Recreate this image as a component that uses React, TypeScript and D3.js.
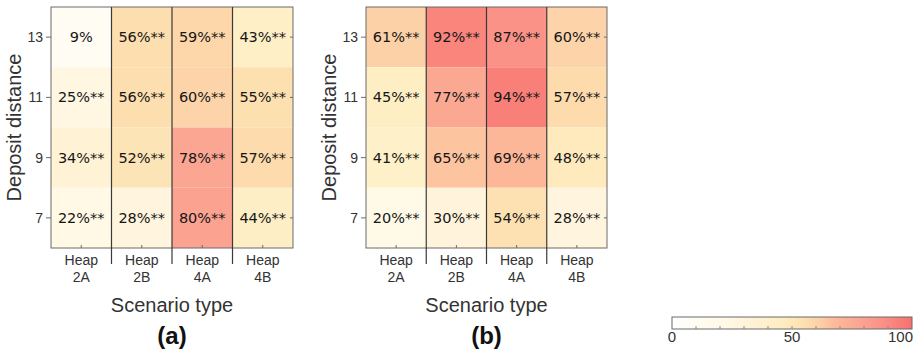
import React from "react";
import * as d3 from "d3";

// Scenario columns and deposit-distance rows (top to bottom)
const scenarios = ["2A", "2B", "4A", "4B"];
const distances = [13, 11, 9, 7];

// Percentages per scenario column, listed top row (13) to bottom row (7)
const panelA = [
  [9, 25, 34, 22],
  [56, 56, 52, 28],
  [59, 60, 78, 80],
  [43, 55, 57, 44],
];
const sigA = [
  [false, true, true, true],
  [true, true, true, true],
  [true, true, true, true],
  [true, true, true, true],
];
const panelB = [
  [61, 45, 41, 20],
  [92, 77, 65, 30],
  [87, 94, 69, 54],
  [60, 57, 48, 28],
];
const sigB = [
  [true, true, true, true],
  [true, true, true, true],
  [true, true, true, true],
  [true, true, true, true],
];

const colorbarTicks = [0, 50, 100];
const colorbarMinor = d3.range(0, 101, 10);

// White -> pale yellow -> peach -> red colour map on 0..100
const cmapStops = [0, 10, 22, 30, 45, 55, 62, 68, 78, 88, 94, 100];
const cmapColors = [
  "#ffffff", "#fffcf2", "#fff9e6", "#fff4db", "#feeec3", "#fde0b0",
  "#fdcfa6", "#fcb999", "#fba692", "#fa9086", "#f98079", "#f87070",
];
const color = d3
  .scaleLinear<string>()
  .domain(cmapStops)
  .range(cmapColors)
  .interpolate(d3.interpolateRgb);

const TOP = 7;
const BOTTOM = 248;
const SEP_BOTTOM = 264;
const SANS = "'Liberation Sans', Arial, sans-serif";
const DEJAVU = "'DejaVu Sans', sans-serif";

function Panel({ left, right, values, sig, tag }: { left: number; right: number; values: number[][]; sig: boolean[][]; tag: string }) {
  const x = d3.scaleBand<string>().domain(scenarios).range([left, right]);
  const y = d3.scaleBand<number>().domain(distances).range([TOP, BOTTOM]);
  const cx = (left + right) / 2;
  return (
    <g>
      {scenarios.map((s, i) =>
        distances.map((d, j) => (
          <rect
            key={`${s}-${d}`}
            x={x(s)!}
            y={y(d)!}
            width={x.bandwidth()}
            height={y.bandwidth()}
            fill={color(values[i][j])}
          />
        ))
      )}
      {scenarios.map((s, i) =>
        distances.map((d, j) => (
          <text
            key={`t-${s}-${d}`}
            x={x(s)! + x.bandwidth() / 2}
            y={y(d)! + y.bandwidth() / 2 + 5}
            textAnchor="middle"
            fontFamily={DEJAVU}
            fontSize={14.5}
            fill="#161616"
          >
            {`${values[i][j]}%${sig[i][j] ? "**" : ""}`}
          </text>
        ))
      )}
      {/* plot frame */}
      <rect x={left} y={TOP} width={right - left} height={BOTTOM - TOP} fill="none" stroke="#6b6b6b" strokeWidth={1} />
      {/* column separators run down into the tick-label area */}
      {scenarios.slice(1).map((s) => (
        <line key={`sep-${s}`} x1={x(s)!} x2={x(s)!} y1={TOP} y2={SEP_BOTTOM} stroke="#3a3a3a" strokeWidth={1.2} />
      ))}
      {/* y ticks and labels */}
      {distances.map((d) => {
        const yy = y(d)! + y.bandwidth() / 2;
        return (
          <g key={`y-${d}`}>
            <line x1={left - 5} x2={left} y1={yy} y2={yy} stroke="#6b6b6b" />
            <line x1={right - 3} x2={right} y1={yy} y2={yy} stroke="#6b6b6b" />
            <text x={left - 8} y={yy + 5} textAnchor="end" fontFamily={SANS} fontSize={14} fill="#333">
              {d}
            </text>
          </g>
        );
      })}
      {/* x ticks and labels */}
      {scenarios.map((s) => {
        const xx = x(s)! + x.bandwidth() / 2;
        return (
          <g key={`x-${s}`}>
            <line x1={xx} x2={xx} y1={BOTTOM - 3} y2={BOTTOM} stroke="#6b6b6b" />
            <text x={xx} y={265} textAnchor="middle" fontFamily={SANS} fontSize={14} fill="#333">
              Heap
            </text>
            <text x={xx} y={282} textAnchor="middle" fontFamily={SANS} fontSize={14} fill="#333">
              {s}
            </text>
          </g>
        );
      })}
      <text
        transform={`translate(${left - 30},${(TOP + BOTTOM) / 2}) rotate(-90)`}
        textAnchor="middle"
        fontFamily={SANS}
        fontSize={20}
        fill="#333"
      >
        Deposit distance
      </text>
      <text x={cx} y={312} textAnchor="middle" fontFamily={SANS} fontSize={20} fill="#333">
        Scenario type
      </text>
      <text x={cx} y={344} textAnchor="middle" fontFamily={SANS} fontSize={24} fontWeight="bold" fill="#111">
        {tag}
      </text>
    </g>
  );
}

function Colorbar({ left, right, top, height }: { left: number; right: number; top: number; height: number }) {
  const s = d3.scaleLinear().domain([0, 100]).range([left, right]);
  return (
    <g>
      <defs>
        <linearGradient id="cbar" x1="0" x2="1" y1="0" y2="0">
          {cmapStops.map((v, i) => (
            <stop key={v} offset={`${v}%`} stopColor={cmapColors[i]} />
          ))}
        </linearGradient>
      </defs>
      <rect x={left} y={top} width={right - left} height={height} fill="url(#cbar)" stroke="#6b6b6b" />
      {colorbarMinor.slice(1, -1).map((v) => (
        <line key={v} x1={s(v)} x2={s(v)} y1={top + height - 3} y2={top + height} stroke="#888" />
      ))}
      {colorbarTicks.map((v, i) => (
        <text
          key={v}
          x={i === colorbarTicks.length - 1 ? right + 1 : s(v)}
          y={top + height + 13}
          textAnchor={i === colorbarTicks.length - 1 ? "end" : "middle"}
          fontFamily={SANS}
          fontSize={15}
          fill="#333"
        >
          {v}
        </text>
      ))}
    </g>
  );
}

export default function App() {
  return (
    <svg width={918} height={353} style={{ position: "absolute", left: 0, top: 0, background: "#fff" }}>
      <Panel left={51} right={293} values={panelA} sig={sigA} tag="(a)" />
      <Panel left={366} right={607} values={panelB} sig={sigB} tag="(b)" />
      <Colorbar left={672} right={912} top={317} height={12} />
    </svg>
  );
}
